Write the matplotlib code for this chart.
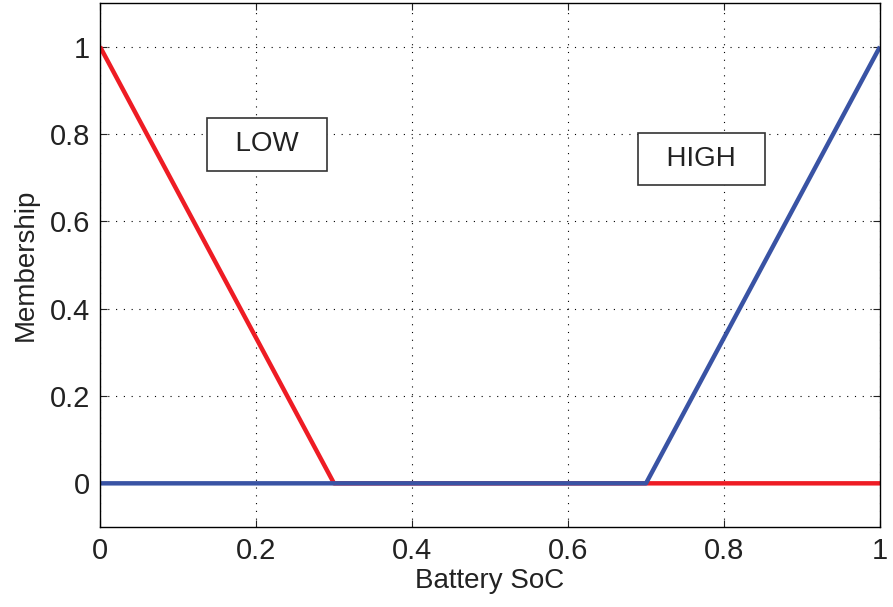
import matplotlib.pyplot as plt
import numpy as np

plt.rcParams['font.family'] = ['Liberation Sans', 'DejaVu Sans']

soc = [0.0, 0.3, 0.7, 1.0]
low = [1.0, 0.0, 0.0, 0.0]
high = [0.0, 0.0, 0.0, 1.0]

xticks = [0, 0.2, 0.4, 0.6, 0.8, 1]
yticks = [0, 0.2, 0.4, 0.6, 0.8, 1]

fig = plt.figure(figsize=(8.93, 6.07), dpi=100)
ax = fig.add_axes([100 / 893, 1 - 527 / 607, 780 / 893, 524 / 607])

ax.plot(soc, low, color='#ee1c24', lw=3.2, solid_capstyle='butt')
ax.plot(soc, high, color='#3953a4', lw=3.2, solid_capstyle='butt')

ax.set_xlim(0, 1)
ax.set_ylim(-0.1, 1.1)
ax.set_xticks(xticks)
ax.set_xticklabels(['0', '0.2', '0.4', '0.6', '0.8', '1'])
ax.set_yticks(yticks)
ax.set_yticklabels(['0', '0.2', '0.4', '0.6', '0.8', '1'])
ax.grid(True, color='black', linestyle=(0, (1, 6)), linewidth=0.8)
ax.tick_params(labelsize=21, direction='in', length=5, width=0.8, top=True, right=True,
               pad=7, colors='#222222')
for s in ax.spines.values():
    s.set_linewidth(1.0)

ax.set_xlabel('Battery SoC', fontsize=20, labelpad=2, color='#222222')
ax.set_ylabel('Membership', fontsize=20, labelpad=8, color='#222222')

box = dict(boxstyle='square,pad=0.47', facecolor='white', edgecolor='#333333', linewidth=1.2)
ax.text(0.214, 0.776, '  LOW  ', fontsize=20, ha='center', va='center', bbox=box, color='#222222')
ax.text(0.771, 0.742, '  HIGH  ', fontsize=20, ha='center', va='center', bbox=box, color='#222222')

fig.savefig('out.png', dpi=100)
